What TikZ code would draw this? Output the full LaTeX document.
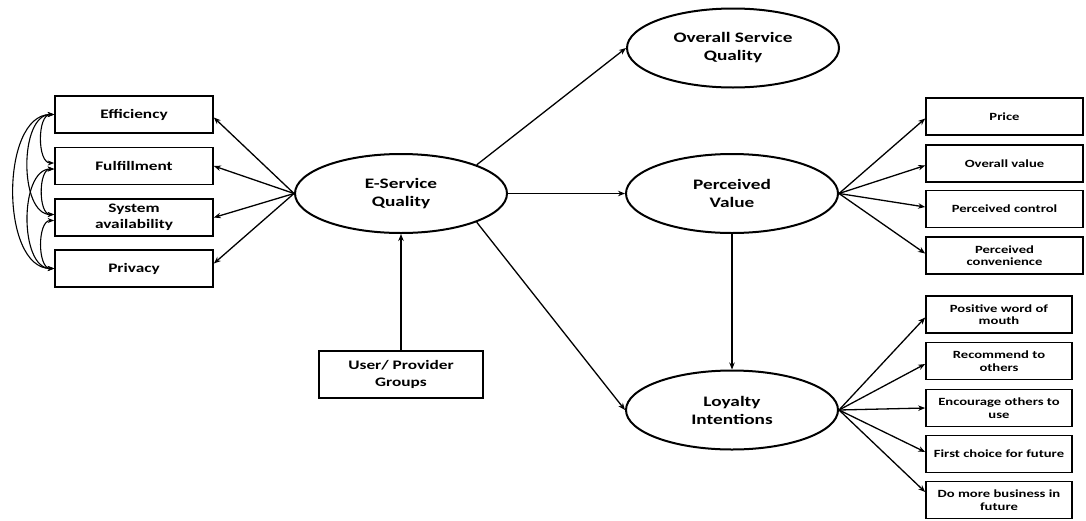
\documentclass[tikz,border=0pt]{standalone}
\usepackage{fontspec}
\setmainfont{Carlito}[FakeStretch=1.33]
\usetikzlibrary{shapes.geometric,arrows.meta}
\begin{document}
\begin{tikzpicture}[x=1pt,y=-1pt,
  big/.style={ellipse, draw, line width=2pt, minimum width=212pt, minimum height=79pt, inner sep=0pt, align=center, font=\fontsize{14.5}{18}\selectfont\bfseries},
  lbox/.style={rectangle, draw, line width=1.7pt, minimum width=158pt, minimum height=37pt, inner sep=0pt, align=center, font=\fontsize{13}{16.5}\selectfont\bfseries},
  rbox/.style={rectangle, draw, line width=1.7pt, minimum width=157pt, minimum height=37pt, inner sep=0pt, align=center, font=\fontsize{11}{12.5}\selectfont\bfseries},
  sbox/.style={rbox, minimum width=146pt},
  conn/.style={-{Stealth[length=7pt,width=5.5pt]}, line width=1.3pt},
  cov/.style={{Stealth[length=6.5pt,width=5pt]}-{Stealth[length=6.5pt,width=5pt]}, line width=1.1pt, out=180, in=180, looseness=0.9}
]
\useasboundingbox (0,0) rectangle (1086,520);

% latent constructs
\node[big] (esq) at (401,193.5) {E-Service\\Quality};
\node[big] (osq) at (733,48) {Overall Service\\Quality};
\node[big] (pv)  at (732,193.5) {Perceived\\Value};
\node[big] (loy) at (732,410) {Loyalty\\Intentions};

% left dimensions
\node[lbox] (eff) at (134,114.5) {Efficiency};
\node[lbox] (ful) at (134,166) {Fulfillment};
\node[lbox] (sys) at (134,217.5) {System\\availability};
\node[lbox] (pri) at (134,268.5) {Privacy};

% groups
\node[lbox, minimum width=164pt, minimum height=47pt] (grp) at (401,374.5) {User/ Provider\\Groups};

% perceived value indicators
\node[rbox] (price) at (1004.5,116.5) {Price};
\node[rbox] (oval)  at (1004.5,163.5) {Overall value};
\node[rbox] (pctl)  at (1004.5,209) {Perceived control};
\node[rbox] (pconv) at (1004.5,255.5) {Perceived\\convenience};

% loyalty indicators
\node[sbox] (wom) at (999,314.5) {Positive word of\\mouth};
\node[sbox] (rec) at (999,361) {Recommend to\\others};
\node[sbox] (enc) at (999,408) {Encourage others to\\use};
\node[sbox] (fcf) at (999,454) {First choice for future};
\node[sbox] (dmb) at (999,500) {Do more business in\\future};

% structural paths
\draw[conn] (esq.north east) -- (osq.west);
\draw[conn] (esq.east) -- (pv.west);
\draw[conn] (esq.south east) -- (loy.west);
\draw[conn] (pv.south) -- (loy.north);
\draw[conn] (grp.north) -- (esq.south);

% E-service to dimensions
\draw[conn] (esq.west) -- ([yshift=-3pt]eff.east);
\draw[conn] (esq.west) -- (ful.east);
\draw[conn] (esq.west) -- (sys.east);
\draw[conn] (esq.west) -- ([yshift=5pt]pri.east);

% perceived value to indicators
\draw[conn] (pv.east) -- ([yshift=-2pt]price.west);
\draw[conn] (pv.east) -- ([yshift=-2pt]oval.west);
\draw[conn] (pv.east) -- ([yshift=2pt]pctl.west);
\draw[conn] (pv.east) -- ([yshift=2pt]pconv.west);

% loyalty to indicators
\draw[conn] (loy.east) -- ([yshift=-3pt]wom.west);
\draw[conn] (loy.east) -- ([yshift=-3pt]rec.west);
\draw[conn] (loy.east) -- (enc.west);
\draw[conn] (loy.east) -- ([yshift=2pt]fcf.west);
\draw[conn] (loy.east) -- ([yshift=8pt]dmb.west);

% covariances
\draw[cov] (eff.west) to ([yshift=3pt]ful.west);
\draw[cov] (eff.west) to ([yshift=3pt]sys.west);
\draw[cov] (eff.west) to (pri.west);
\draw[cov] ([yshift=-3pt]ful.west) to ([yshift=3pt]sys.west);
\draw[cov] ([yshift=-3pt]ful.west) to (pri.west);
\draw[cov] ([yshift=-3pt]sys.west) to (pri.west);
\end{tikzpicture}
\end{document}
